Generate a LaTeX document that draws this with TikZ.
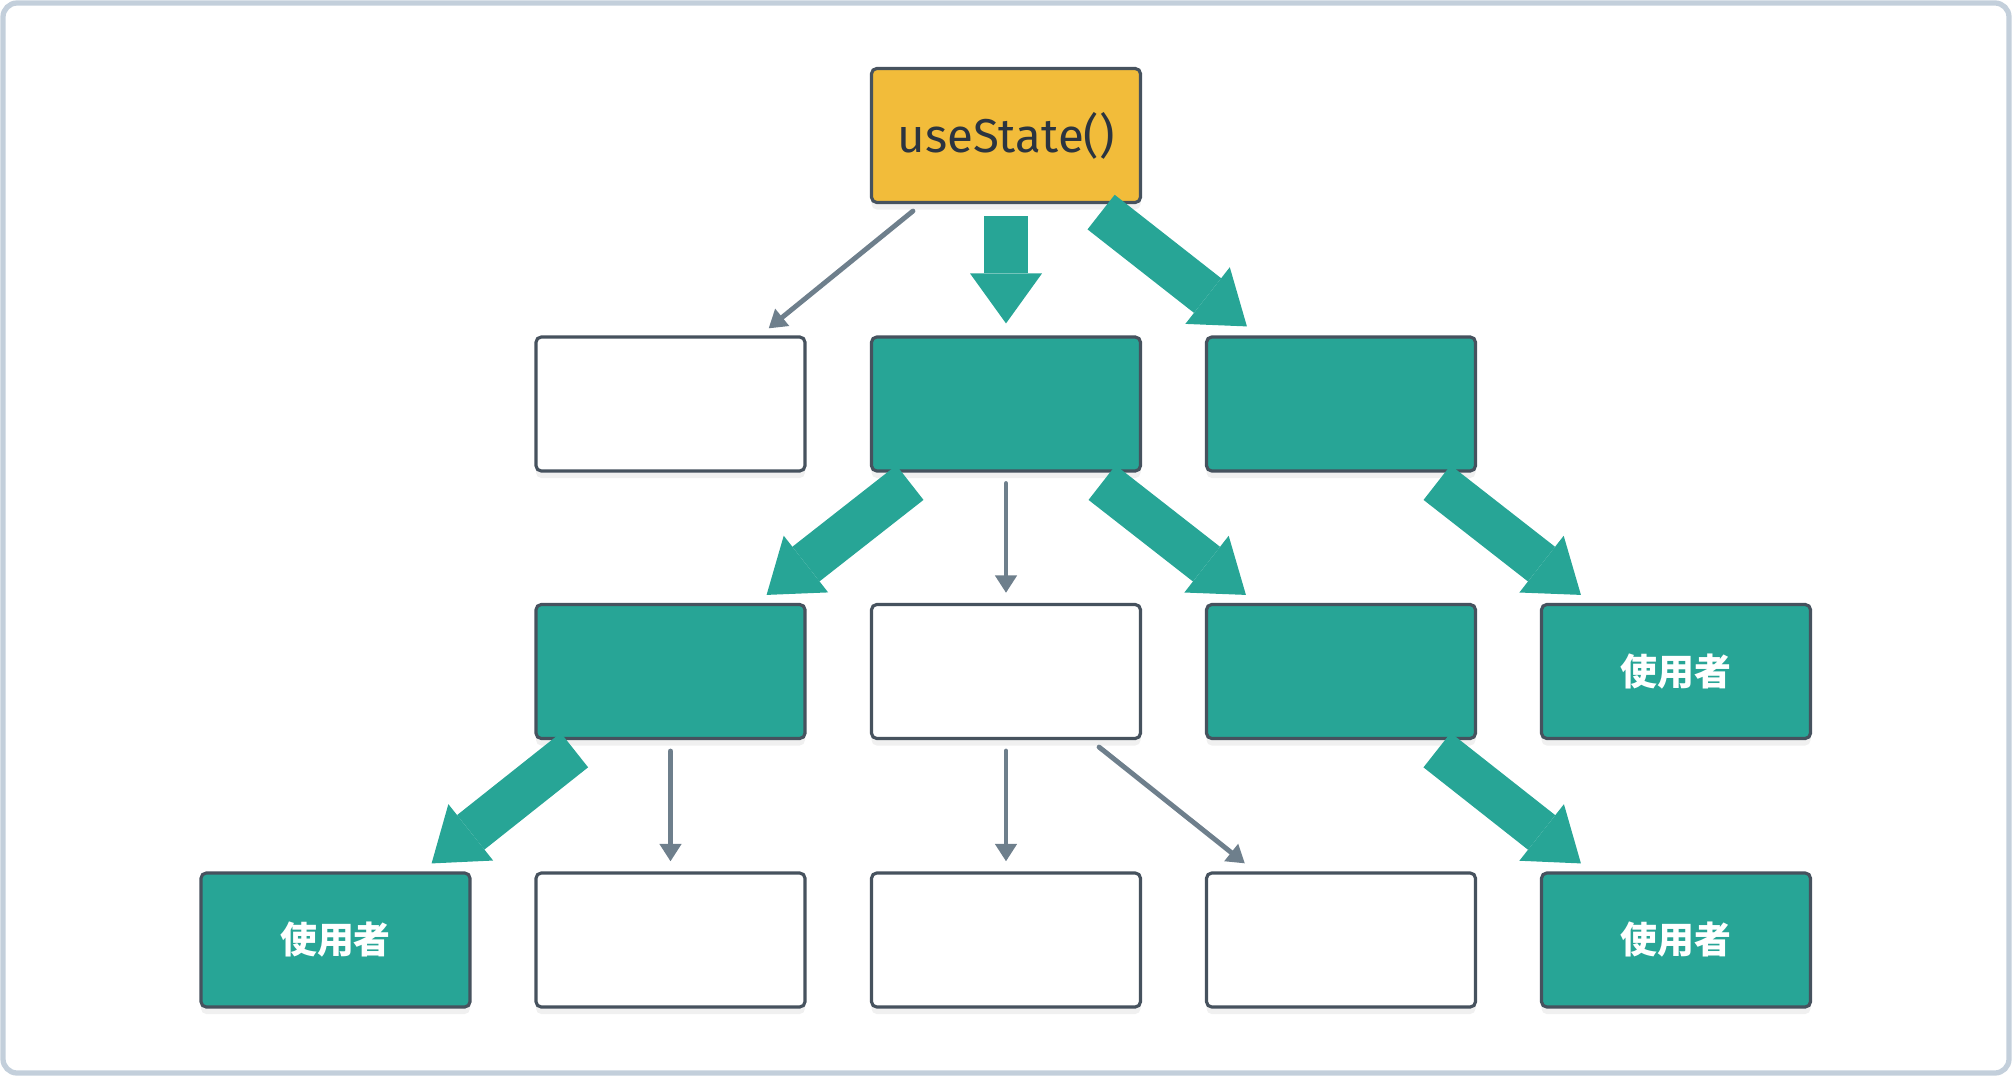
\documentclass[tikz,border=0pt]{standalone}
\usepackage{fontspec}
\newfontfamily\hookfont{Fira Sans}
\newfontfamily\cjk{Noto Sans CJK TC}
\usetikzlibrary{arrows.meta,calc,shadows}
\definecolor{teal1}{HTML}{27A596}
\definecolor{gold}{HTML}{F2BC3A}
\definecolor{edge}{HTML}{46525E}
\definecolor{slate}{HTML}{6E7F8C}
\definecolor{framec}{HTML}{C3CFDB}
\definecolor{ink}{HTML}{2B3440}

\begin{document}
\begin{tikzpicture}[
	box/.style={draw=edge, line width=0.9pt, rounded corners=1.5pt, minimum width=2.69cm, minimum height=1.34cm, inner sep=0pt,
		drop shadow={opacity=0.12, shadow xshift=0pt, shadow yshift=-2pt}},
	empty/.style={box, fill=white},
	used/.style={box, fill=teal1, text=white, font=\cjk\bfseries\fontsize{10.5}{12}\selectfont},
	hook/.style={box, fill=gold, text=ink, font=\hookfont\fontsize{13.5}{16}\selectfont},
	link/.style={draw=slate, line width=1.4pt, line cap=round, -{Triangle[width=6pt,length=5pt]}},
	flow/.style={draw=teal1, line width=0.44cm, -{Triangle[width=0.72cm,length=0.5cm,line width=0pt]}}
	]
	\useasboundingbox (0,0) rectangle (20.12,10.76);
	\draw [framec, line width=1.5pt, rounded corners=4pt] (0.03,0.03) rectangle (20.09,10.73);

	\node [hook] (s) at (10.06,9.405) {useState()};

	\node [empty] (a1) at (6.705,6.72) {};
	\node [used] (a2) at (10.06,6.72) {};
	\node [used] (a3) at (13.41,6.72) {};

	\node [used] (b1) at (6.705,4.045) {};
	\node [empty] (b2) at (10.06,4.045) {};
	\node [used] (b3) at (13.41,4.045) {};
	\node [used] (b4) at (16.76,4.045) {使用者};

	\node [used] (c0) at (3.355,1.36) {使用者};
	\node [empty] (c1) at (6.705,1.36) {};
	\node [empty] (c2) at (10.06,1.36) {};
	\node [empty] (c3) at (13.41,1.36) {};
	\node [used] (c4) at (16.76,1.36) {使用者};

	\draw [link] ($(s.south west)+(0.43,-0.07)$) -- ($(a1.north east)+(-0.38,0.07)$);
	\draw [flow] ($(s.south)+(0,-0.12)$) -- ($(a2.north)+(0,0.12)$);
	\draw [flow] ($(s.south east)+(-0.41,-0.08)$) -- ($(a3.north west)+(0.42,0.09)$);

	\draw [flow] ($(a2.south west)+(0.4,-0.1)$) -- ($(b1.north east)+(-0.4,0.08)$);
	\draw [link] ($(a2.south)+(0,-0.11)$) -- ($(b2.north)+(0,0.1)$);
	\draw [flow] ($(a2.south east)+(-0.4,-0.1)$) -- ($(b3.north west)+(0.41,0.08)$);
	\draw [flow] ($(a3.south east)+(-0.4,-0.1)$) -- ($(b4.north west)+(0.41,0.08)$);

	\draw [flow] ($(b1.south west)+(0.4,-0.1)$) -- ($(c0.north east)+(-0.4,0.08)$);
	\draw [link] ($(b1.south)+(0,-0.11)$) -- ($(c1.north)+(0,0.1)$);
	\draw [link] ($(b2.south)+(0,-0.11)$) -- ($(c2.north)+(0,0.1)$);
	\draw [link] ($(b2.south east)+(-0.43,-0.07)$) -- ($(c3.north west)+(0.4,0.08)$);
	\draw [flow] ($(b3.south east)+(-0.4,-0.1)$) -- ($(c4.north west)+(0.41,0.08)$);
\end{tikzpicture}
\end{document}
